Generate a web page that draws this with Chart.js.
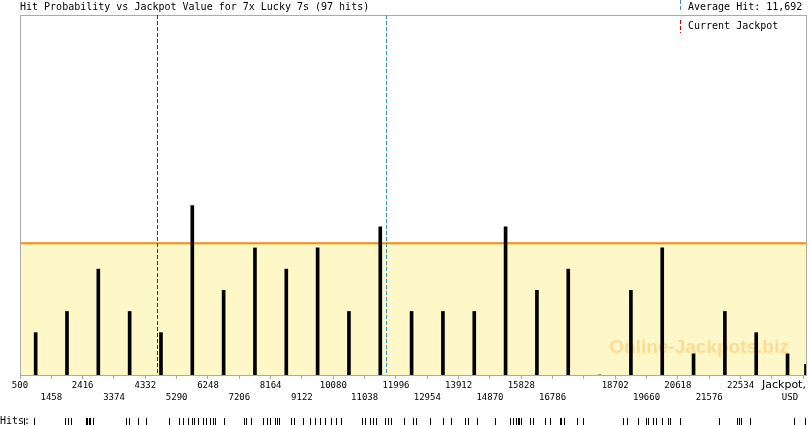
<!DOCTYPE html>
<html>
<head>
<meta charset="utf-8">
<script src="https://cdn.jsdelivr.net/npm/chart.js@4"></script>
<style>
  html, body { margin: 0; padding: 0; background: #fff; }
  canvas { display: block; }
</style>
</head>
<body>
<canvas id="hitChart" width="810" height="425"></canvas>
<script>
const titleText = "Hit Probability vs Jackpot Value for 7x Lucky 7s (97 hits)";
const averageHit = 11692;
const currentJackpot = 4681;
const referenceLevel = 6.22;
const xMin = 500;
const xMax = 24566;
const yMax = 17;

const xTickValues = [500, 1458, 2416, 3374, 4332, 5290, 6248, 7206, 8164, 9122, 10080, 11038, 11996,
    12954, 13912, 14870, 15828, 16786, 17744, 18702, 19660, 20618, 21576, 22534, 23492, 24450];
const xTickLabels = ["500", "1458", "2416", "3374", "4332", "5290", "6248", "7206", "8164", "9122", "10080",
    "11038", "11996", "12954", "13912", "14870", "15828", "16786", "", "18702", "19660", "20618", "21576",
    "22534", "", ""];

const barPositions = [979, 1937, 2895, 3853, 4811, 5769, 6727, 7685, 8643, 9601, 10559, 11517, 12475,
    13433, 14391, 15349, 16307, 17265, 18223, 19181, 20139, 21097, 22055, 23013, 23971, 24535];
const barHits = [2, 3, 5, 3, 2, 8, 4, 6, 5, 6, 3, 7, 3, 3, 3, 7, 4, 5, 0, 4, 6, 1, 3, 2, 1, 0.5];

const hitValues = [632, 938, 1871, 1957, 2061, 2529, 2560, 2606, 2652, 2743, 3744, 3824, 4121, 4356, 5070,
    5376, 5477, 5630, 5752, 5835, 5936, 6089, 6193, 6325, 6416, 6478, 6753, 7365, 7426, 7549, 7916, 8038,
    8130, 8283, 8344, 8405, 8773, 8865, 9156, 9355, 9508, 9661, 9814, 10019, 10172, 10303, 10946, 11053,
    11191, 11283, 11396, 11650, 11742, 11855, 12232, 12507, 12599, 13027, 13435, 13692, 14099, 14200,
    14475, 15017, 15476, 15568, 15675, 15721, 15767, 15813, 16088, 16180, 16547, 16700, 17006, 17058,
    17129, 17536, 17701, 18925, 19048, 19403, 19639, 19709, 19844, 19945, 20119, 20327, 20373, 20679,
    21882, 22433, 22500, 22562, 22822, 24168, 24505];

const MONO = "'DejaVu Sans Mono', monospace";

// alternate label rows, counting only ticks that carry a label
const labelRows = [];
let labelCount = 0;
xTickLabels.forEach((label) => {
    labelRows.push(labelCount % 2);
    if (label) labelCount++;
});

const decorations = {
    id: "decorations",
    afterDatasetDraw(chart, args) {
        // watermark sits on the yellow fill, under the bars
        if (args.index !== 1) return;
        const { ctx, chartArea } = chart;
        ctx.save();
        ctx.font = "bold 19px 'Liberation Sans', Arial, sans-serif";
        ctx.fillStyle = "rgba(255, 170, 60, 0.38)";
        ctx.textAlign = "center";
        ctx.textBaseline = "middle";
        ctx.fillText("Online-Jackpots.biz", chartArea.right - 108, 348);
        ctx.restore();
    },
    afterDraw(chart) {
        const { ctx, chartArea } = chart;
        const x = chart.scales.x;
        const { left, right, top, bottom } = chartArea;
        ctx.save();

        // frame
        ctx.strokeStyle = "#aaaaaa";
        ctx.lineWidth = 1;
        ctx.strokeRect(left + 0.5, top + 0.5, right - left - 1, bottom - top);

        // marker lines
        const vline = (value, color, y0, y1) => {
            const px = Math.round(x.getPixelForValue(value)) + 0.5;
            ctx.beginPath();
            ctx.moveTo(px, y0);
            ctx.lineTo(px, y1);
            ctx.strokeStyle = color;
            ctx.stroke();
        };
        ctx.setLineDash([4, 2]);
        vline(currentJackpot, "#cc0000", top, bottom);
        vline(averageHit, "#3a8ccf", top, bottom);

        // legend
        const seg = (color, y0, y1) => {
            ctx.beginPath();
            ctx.moveTo(680.5, y0);
            ctx.lineTo(680.5, y1);
            ctx.strokeStyle = color;
            ctx.stroke();
        };
        seg("#3a8ccf", 0, 10);
        seg("#cc0000", 20, 33);
        ctx.setLineDash([]);

        ctx.fillStyle = "#000";
        ctx.font = "10px " + MONO;
        ctx.textBaseline = "middle";
        ctx.textAlign = "left";
        ctx.fillText(titleText, 20, 7.5);
        ctx.fillText("Average Hit: " + averageHit.toLocaleString("en-US"), 688, 7.5);
        ctx.fillText("Current Jackpot", 688, 26.5);

        // axis name
        ctx.font = "11px 'DejaVu Sans', sans-serif";
        ctx.fillText("Jackpot,", 762, 385.5);
        ctx.font = "9px " + MONO;
        ctx.textAlign = "center";
        ctx.fillText("USD", 790, 398);

        // hits rug
        ctx.textAlign = "left";
        ctx.font = "10px " + MONO;
        ctx.fillText("Hits:", 0, 421);
        ctx.fillStyle = "#000";
        hitValues.forEach((value) => {
            const px = Math.round(x.getPixelForValue(value));
            ctx.fillRect(px, 418, 1, 7);
        });

        ctx.restore();
    },
};

new Chart(document.getElementById("hitChart"), {
    type: "bar",
    data: {
        datasets: [
            {
                label: "Hits",
                data: barPositions.map((pos, i) => ({ x: pos, y: barHits[i] })),
                backgroundColor: "#000000",
                barThickness: 3,
                order: 0,
            },
            {
                type: "line",
                label: "Level",
                data: [{ x: xMin, y: referenceLevel }, { x: xMax, y: referenceLevel }],
                borderColor: "#ff8800",
                borderWidth: 2,
                backgroundColor: "#fef8c8",
                fill: "origin",
                pointRadius: 0,
                order: 1,
            },
        ],
    },
    options: {
        responsive: false,
        animation: false,
        events: [],
        layout: { padding: { left: 20, top: 15, right: 3, bottom: 0 } },
        plugins: {
            legend: { display: false },
            tooltip: { enabled: false },
        },
        scales: {
            x: {
                type: "linear",
                min: xMin,
                max: xMax,
                offset: false,
                afterBuildTicks: (scale) => {
                    scale.ticks = xTickValues.map((value) => ({ value }));
                },
                afterFit: (scale) => {
                    scale.height = 50;
                },
                border: { display: false },
                grid: {
                    offset: false,
                    drawOnChartArea: false,
                    drawTicks: true,
                    tickLength: 4,
                    color: "#aaaaaa",
                },
                ticks: {
                    autoSkip: false,
                    maxRotation: 0,
                    padding: 0,
                    color: "#000",
                    font: { family: MONO, size: 9, lineHeight: 1.4 },
                    callback: (value, index) => {
                        const label = xTickLabels[index] || "";
                        return labelRows[index] === 0 ? [label] : ["", label];
                    },
                },
            },
            y: {
                display: false,
                min: 0,
                max: yMax,
            },
        },
    },
    plugins: [decorations],
});
</script>
</body>
</html>
